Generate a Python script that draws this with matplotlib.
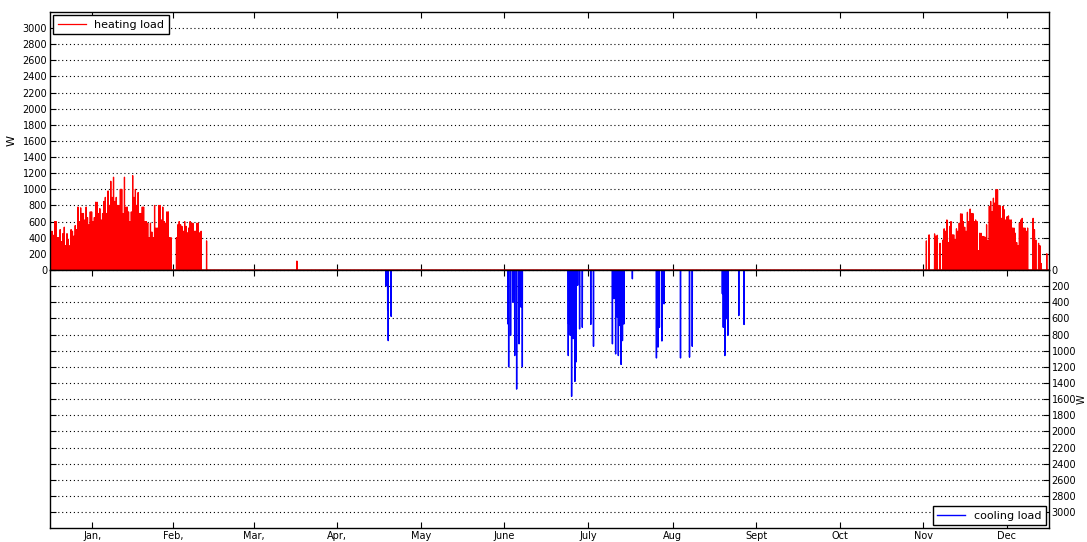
import numpy as np
import matplotlib.pyplot as plt

# Calendar
month_days = [31, 28, 31, 30, 31, 30, 31, 31, 30, 31, 30, 31]
month_labels = ['Jan,', 'Feb,', 'Mar,', 'Apr,', 'May', 'June', 'July',
                'Aug', 'Sept', 'Oct', 'Nov', 'Dec']

# Heating load (W): night peak and day peak, one pair per day
# days 0..57 (Jan 1 - Feb 27)
winter_night = [470, 430, 600, 400, 350, 530, 450, 300, 480, 550,
                780, 770, 700, 780, 560, 720, 650, 840, 760, 700,
                900, 980, 1100, 1150, 900, 800, 1000, 1150, 780, 600,
                1170, 1000, 960, 700, 780, 600, 400, 470, 800, 520,
                800, 780, 580, 720, 400, 0, 400, 600, 540, 600,
                460, 600, 580, 480, 580, 480, 0, 360]
winter_day = [480, 600, 400, 500, 450, 300, 380, 500, 420, 500,
              600, 700, 620, 650, 720, 600, 840, 700, 620, 850,
              700, 800, 900, 850, 800, 1000, 700, 780, 720, 720,
              900, 800, 700, 780, 600, 580, 580, 400, 520, 800,
              620, 600, 720, 400, 0, 0, 560, 560, 480, 540,
              520, 580, 480, 580, 460, 0, 0, 0]
# days 320..364 (Nov 17 - Dec 31)
autumn_night = [360, 435, 0, 447, 430, 330, 370, 480, 340, 600,
                435, 510, 580, 695, 530, 715, 755, 700, 620, 240,
                455, 415, 560, 790, 725, 830, 995, 790, 790, 620,
                670, 620, 520, 340, 580, 640, 520, 520, 0, 640,
                370, 330, 80, 0, 200]
autumn_day = [0, 0, 0, 420, 0, 0, 510, 620, 540, 435,
              380, 480, 695, 600, 480, 600, 700, 600, 600, 455,
              415, 405, 365, 850, 890, 995, 800, 640, 745, 660,
              620, 520, 455, 300, 620, 520, 480, 0, 0, 500,
              0, 300, 0, 0, 0]
winter_first_day = 0
autumn_first_day = 320
spring_day = 90
spring_load = 110

# Cooling load (W): day of year (fractional) and peak value
cool_days = [122.8, 123.4, 123.6, 124.7,
             167.4, 167.6, 168.3, 169.1, 169.8, 170.5, 171.4, 172.1, 172.6,
             189.4, 189.5, 190.1, 190.6, 191.2, 191.8, 192.2, 192.8, 193.5,
             194.5, 197.6, 198.6,
             205.5, 206.1, 206.7, 207.3, 207.7, 208.3, 208.7, 209.2, 209.7,
             212.8,
             221.6, 222.2, 222.7, 223.6, 224.4,
             230.4, 233.7, 234.7,
             245.7, 246.0, 246.6, 247.1, 247.7, 251.7, 253.6]
cool_loads = [200, 490, 875, 575,
              670, 1200, 810, 400, 1060, 1475, 915, 460, 1200,
              1060, 670, 810, 1565, 850, 1380, 1140, 190, 730,
              710, 675, 945,
              915, 355, 1040, 585, 1060, 690, 1170, 875, 670,
              110,
              1090, 955, 710, 880, 420,
              1090, 1080, 945,
              295, 710, 1060, 605, 810, 565, 675]

# hourly series
hours = np.arange(8760)
heating = np.zeros(8760)
cooling = np.zeros(8760)
for i, (a, b) in enumerate(zip(winter_night, winter_day)):
    d = winter_first_day + i
    heating[d * 24 + 5] = a
    heating[d * 24 + 17] = b
for i, (a, b) in enumerate(zip(autumn_night, autumn_day)):
    d = autumn_first_day + i
    heating[d * 24 + 5] = a
    heating[d * 24 + 17] = b
heating[spring_day * 24 + 5] = spring_load
for d, v in zip(cool_days, cool_loads):
    cooling[int(d * 24)] = v

month_start = np.concatenate([[0], np.cumsum(month_days)[:-1]])
tick_pos = (month_start + np.array(month_days) / 2.0) * 24

plt.rcParams['font.family'] = 'DejaVu Sans'
fig = plt.figure(figsize=(10.87, 5.42), dpi=100)
fig.patch.set_facecolor('white')

ax1 = fig.add_axes([0.046, 0.502, 0.919, 0.476])
ax2 = fig.add_axes([0.046, 0.025, 0.919, 0.477])

ax1.plot(hours, heating, color='red', lw=0.9, label='heating load')
ax2.plot(hours, cooling, color='blue', lw=1.0, label='cooling load')

yt = np.arange(0, 3001, 200)
for ax in (ax1, ax2):
    ax.set_xlim(0, 8760)
    ax.set_xticks(tick_pos)
    ax.set_yticks(yt)
    ax.yaxis.grid(True, color='black', linestyle=(0, (1, 2.5)), linewidth=0.8)
    ax.tick_params(direction='in', labelsize=7, length=4, pad=2, top=True,
                   right=True, left=True, bottom=True)
    for s in ax.spines.values():
        s.set_linewidth(1.0)
    ax.set_axisbelow(True)

ax1.set_ylim(0, 3200)
ax1.tick_params(labelbottom=False)
ax1.set_ylabel('W', fontsize=8, labelpad=4)

ax2.set_ylim(3200, 0)
ax2.yaxis.tick_right()
ax2.yaxis.set_label_position('right')
ax2.tick_params(left=True, right=True, labelleft=False, labelright=True)
ax2.set_ylabel('W', fontsize=7, labelpad=0)
ax2.set_xticklabels(month_labels, fontsize=7)
ax2.tick_params(axis='x', pad=1.5)

ax1.legend(loc='upper left', fontsize=8, fancybox=False, edgecolor='black',
           framealpha=1, borderaxespad=0.3, handlelength=2.5)
ax2.legend(loc='lower right', fontsize=8, fancybox=False, edgecolor='black',
           framealpha=1, borderaxespad=0.3, handlelength=2.5)

fig.savefig('out.png', dpi=100, facecolor='white')
